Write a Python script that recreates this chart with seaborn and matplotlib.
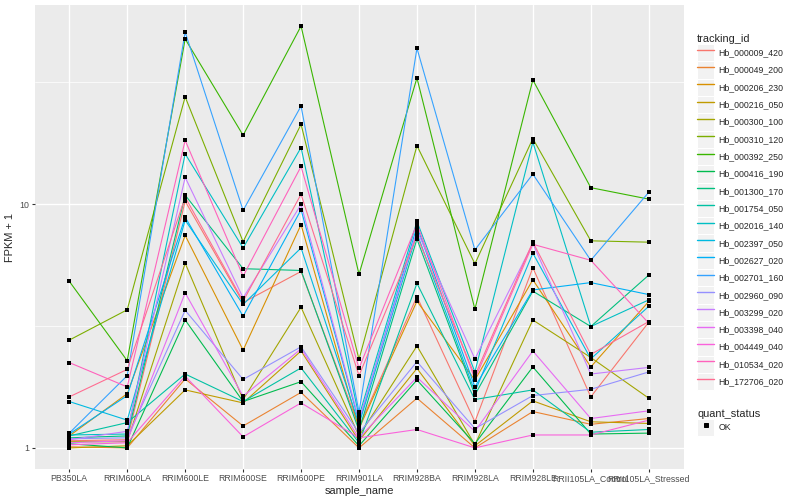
import matplotlib
matplotlib.use("Agg")
import matplotlib.pyplot as plt
import seaborn as sns
import pandas as pd
from matplotlib.lines import Line2D
from matplotlib.patches import Rectangle
from matplotlib.legend_handler import HandlerLine2D
from matplotlib.ticker import FixedLocator, NullFormatter, FuncFormatter

# sample order on the x axis
samples = ['PB350LA', 'RRIM600LA', 'RRIM600LE', 'RRIM600SE', 'RRIM600PE',
           'RRIM901LA', 'RRIM928BA', 'RRIM928LA', 'RRIM928LE',
           'RRII105LA_Control', 'RRII105LA_Stressed']

# FPKM + 1 per gene (same order as samples)
hb_000009_420 = [1.07, 1.08, 10.3, 3.95, 5.3, 1.22, 4.18, 1.28, 5.49, 1.62, 3.28]
hb_000049_200 = [1.01, 1.00, 1.92, 1.23, 1.69, 1.00, 1.60, 1.00, 1.41, 1.25, 1.32]
hb_000206_230 = [1.12, 1.67, 7.45, 2.52, 8.25, 1.20, 4.00, 1.90, 4.90, 2.15, 3.99]
hb_000216_050 = [1.00, 1.02, 1.73, 1.53, 2.50, 1.07, 2.12, 1.02, 1.56, 1.28, 1.26]
hb_000300_100 = [1.06, 1.06, 5.73, 1.58, 3.78, 1.12, 2.62, 1.03, 3.35, 2.35, 1.60]
hb_000310_120 = [2.77, 3.69, 27.6, 7.02, 21.3, 2.31, 17.4, 5.70, 18.6, 7.08, 6.99]
hb_000392_250 = [4.83, 2.28, 47.7, 19.2, 53.9, 5.16, 33.0, 3.71, 32.4, 11.7, 10.5]
hb_000416_190 = [1.04, 1.00, 3.35, 1.55, 1.87, 1.02, 1.90, 1.04, 2.15, 1.14, 1.15]
hb_001300_170 = [1.10, 1.12, 10.9, 5.44, 5.35, 1.18, 7.20, 1.65, 4.40, 3.15, 5.12]
hb_001754_050 = [1.12, 1.27, 2.01, 1.55, 2.13, 1.05, 4.74, 1.58, 1.73, 1.16, 1.19]
hb_002016_140 = [1.13, 1.14, 16.1, 6.62, 17.1, 1.35, 8.50, 2.05, 18.0, 3.15, 4.05]
hb_002397_050 = [1.55, 1.30, 8.60, 3.88, 6.62, 1.25, 7.60, 1.70, 6.30, 2.32, 3.81]
hb_002627_020 = [1.14, 1.64, 8.85, 3.47, 9.50, 1.28, 8.10, 1.78, 4.45, 4.77, 4.26]
hb_002701_160 = [1.15, 1.98, 50.9, 9.44, 25.3, 1.40, 43.7, 6.50, 13.3, 5.89, 11.2]
hb_002960_090 = [1.09, 1.10, 3.67, 1.91, 2.60, 1.15, 2.26, 1.20, 1.64, 1.74, 2.05]
hb_003299_020 = [1.08, 1.17, 12.9, 4.13, 9.98, 1.30, 7.80, 2.32, 6.90, 2.01, 2.14]
hb_003398_040 = [1.05, 1.07, 4.33, 1.63, 2.55, 1.10, 1.95, 1.17, 2.50, 1.32, 1.42]
hb_004449_040 = [1.03, 1.05, 1.97, 1.11, 1.53, 1.10, 1.19, 1.00, 1.13, 1.13, 1.30]
hb_010534_020 = [2.24, 1.78, 18.3, 5.07, 14.3, 2.12, 8.30, 1.92, 6.85, 5.89, 3.25]
hb_172706_020 = [1.62, 2.10, 10.7, 4.00, 11.0, 1.98, 7.40, 1.98, 7.00, 2.42, 3.30]

tracking_ids = ['Hb_000009_420', 'Hb_000049_200', 'Hb_000206_230', 'Hb_000216_050',
                'Hb_000300_100', 'Hb_000310_120', 'Hb_000392_250', 'Hb_000416_190',
                'Hb_001300_170', 'Hb_001754_050', 'Hb_002016_140', 'Hb_002397_050',
                'Hb_002627_020', 'Hb_002701_160', 'Hb_002960_090', 'Hb_003299_020',
                'Hb_003398_040', 'Hb_004449_040', 'Hb_010534_020', 'Hb_172706_020']
series = [hb_000009_420, hb_000049_200, hb_000206_230, hb_000216_050, hb_000300_100,
          hb_000310_120, hb_000392_250, hb_000416_190, hb_001300_170, hb_001754_050,
          hb_002016_140, hb_002397_050, hb_002627_020, hb_002701_160, hb_002960_090,
          hb_003299_020, hb_003398_040, hb_004449_040, hb_010534_020, hb_172706_020]

# ggplot2 default hue palette for 20 levels
colors = ['#F8766D', '#EA8331', '#D89000', '#C09B00', '#A3A500', '#7CAE00', '#39B600',
          '#00BB4E', '#00BF7D', '#00C1A3', '#00BFC4', '#00BAE0', '#00B0F6', '#35A2FF',
          '#9590FF', '#C77CFF', '#E76BF3', '#FA62DB', '#FF62BC', '#FF6C91']

rows = []
for tid, vals in zip(tracking_ids, series):
    for s, v in zip(samples, vals):
        rows.append((tid, s, v, 'OK'))
df = pd.DataFrame(rows, columns=['tracking_id', 'sample_name', 'fpkm', 'quant_status'])

sns.set_style("darkgrid", {"axes.facecolor": "#EBEBEB", "grid.color": "white"})
plt.rcParams['font.family'] = ['Liberation Sans', 'DejaVu Sans']

fig = plt.figure(figsize=(800 / 72, 500 / 72), dpi=72)
ax = fig.add_axes([34.5 / 800, 31 / 500, 649 / 800, 464 / 500])

sns.lineplot(data=df, x='sample_name', y='fpkm', hue='tracking_id',
             hue_order=tracking_ids, palette=colors, estimator=None, sort=False,
             lw=1.1, legend=False, ax=ax)
sns.scatterplot(data=df, x='sample_name', y='fpkm', color='black', marker='s',
                s=13, linewidth=0, legend=False, ax=ax, zorder=3)

ax.set_yscale('log')
ax.set_ylim(10 ** -0.0866, 10 ** 1.818)
ax.set_xlim(-0.6, 10.6)
ax.set_xticks(range(len(samples)))
ax.set_xticklabels(samples)
ax.yaxis.set_major_locator(FixedLocator([1, 10]))
ax.yaxis.set_minor_locator(FixedLocator([10 ** 0.5, 10 ** 1.5]))
ax.yaxis.set_major_formatter(FuncFormatter(lambda v, p: f'{v:g}'))
ax.yaxis.set_minor_formatter(NullFormatter())

ax.grid(which='major', color='white', lw=1.4)
ax.grid(which='minor', axis='y', color='white', lw=0.7)
ax.set_axisbelow(True)
ax.tick_params(which='minor', length=0)
ax.tick_params(which='major', length=2.75, width=1.1, color='#333333',
               labelcolor='#4D4D4D', labelsize=8.8, pad=2.2,
               bottom=True, left=True)
for sp in ax.spines.values():
    sp.set_visible(False)

ax.set_xlabel('sample_name', fontsize=11, labelpad=3)
ax.set_ylabel('FPKM + 1', fontsize=11, labelpad=5)


class KeyHandler(HandlerLine2D):
    # grey key box behind each legend glyph, like ggplot
    def create_artists(self, legend, orig_handle, xdescent, ydescent,
                       width, height, fontsize, trans):
        box = Rectangle((-xdescent, -ydescent), width, height,
                        facecolor='#F2F2F2', edgecolor='white', lw=1,
                        transform=trans)
        arts = super().create_artists(legend, orig_handle, xdescent, ydescent,
                                      width, height, fontsize, trans)
        return [box] + arts


# handleheight chosen so each key row is ~17.3 px tall
key_opts = dict(loc='upper left', frameon=False, fontsize=8.8, title_fontsize=11,
                handlelength=1.96, handleheight=2.65, labelspacing=0,
                handletextpad=0.45, borderpad=0, borderaxespad=0,
                alignment='left', handler_map={Line2D: KeyHandler()})

line_handles = [Line2D([], [], color=c, lw=1.4) for c in colors]
fig.legend(line_handles, tracking_ids, title='tracking_id',
           bbox_to_anchor=(697 / 800, 1 - 34 / 500), **key_opts)

pt_handle = [Line2D([], [], color='black', marker='s', ms=4, ls='none')]
fig.legend(pt_handle, ['OK'], title='quant_status',
           bbox_to_anchor=(697 / 800, 1 - 409 / 500), **key_opts)

fig.savefig('out.png', dpi=72)
